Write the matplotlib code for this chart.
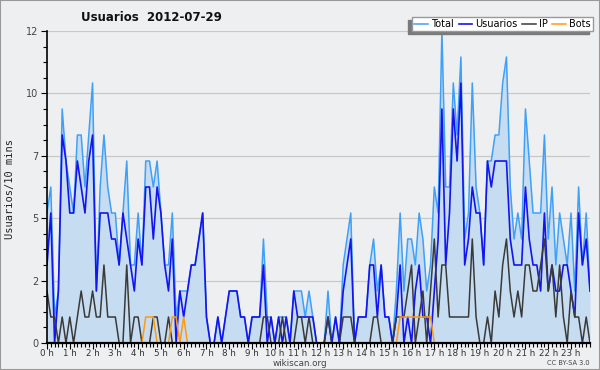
import numpy as np
import matplotlib
matplotlib.use("Agg")
import matplotlib.pyplot as plt
from matplotlib.patches import Rectangle
from matplotlib.ticker import FixedLocator, MultipleLocator

# values per 10 minutes, 144 slots from 0 h to 23 h 50
total = [5, 6, 1, 2, 9, 7, 6, 5, 8, 8, 6, 8, 10, 2, 6, 8, 6, 5, 5, 3,
         5, 7, 3, 3, 5, 3, 7, 7, 6, 7, 5, 3, 3, 5, 1, 2, 2, 2, 3, 3,
         4, 5, 1, 0, 0, 1, 0, 1, 2, 2, 2, 1, 1, 0, 1, 1, 1, 4, 1, 1,
         0, 1, 1, 1, 0, 2, 2, 2, 1, 2, 1, 0, 0, 0, 2, 0, 1, 0, 3, 4,
         5, 0, 1, 1, 1, 3, 4, 2, 3, 1, 1, 0, 2, 5, 2, 4, 4, 3, 5, 4,
         2, 3, 6, 5, 12, 6, 6, 10, 8, 11, 4, 5, 10, 6, 5, 3, 7, 7, 8, 8,
         10, 11, 6, 4, 5, 4, 9, 7, 5, 5, 5, 8, 4, 6, 3, 5, 4, 3, 5, 2,
         6, 3, 5, 2]
usuarios = [3, 5, 0, 2, 8, 7, 5, 5, 7, 6, 5, 7, 8, 2, 5, 5, 5, 4, 4, 3,
            5, 4, 3, 2, 4, 3, 6, 6, 4, 6, 5, 3, 2, 4, 0, 2, 1, 2, 3, 3,
            4, 5, 1, 0, 0, 1, 0, 1, 2, 2, 2, 1, 1, 0, 1, 1, 1, 3, 0, 1,
            0, 1, 0, 1, 0, 2, 1, 1, 1, 1, 1, 0, 0, 0, 1, 0, 1, 0, 2, 3,
            4, 0, 1, 1, 1, 3, 3, 1, 3, 1, 1, 0, 1, 3, 0, 1, 0, 2, 3, 1,
            1, 0, 2, 4, 9, 3, 5, 9, 7, 10, 3, 4, 6, 5, 5, 3, 7, 6, 7, 7,
            7, 7, 4, 3, 3, 3, 6, 4, 3, 3, 2, 5, 2, 3, 2, 2, 3, 3, 2, 1,
            5, 3, 4, 2]
ip = [2, 1, 1, 0, 1, 0, 1, 0, 1, 2, 1, 1, 2, 1, 1, 3, 1, 1, 1, 0,
      0, 3, 0, 1, 1, 0, 0, 0, 1, 1, 0, 0, 1, 0, 0, 0, 0, 0, 0, 0,
      0, 0, 0, 0, 0, 0, 0, 0, 0, 0, 0, 0, 0, 0, 0, 0, 0, 1, 1, 0,
      0, 0, 1, 0, 0, 0, 1, 1, 0, 1, 0, 0, 0, 0, 1, 0, 0, 0, 1, 1,
      1, 0, 0, 0, 0, 0, 1, 1, 0, 0, 0, 0, 1, 1, 1, 2, 3, 0, 1, 2,
      0, 2, 4, 1, 3, 3, 1, 1, 1, 1, 1, 1, 4, 1, 0, 0, 1, 0, 2, 1,
      3, 4, 2, 1, 2, 1, 3, 3, 2, 2, 3, 4, 2, 3, 1, 3, 1, 0, 2, 1,
      1, 0, 1, 0]
bots = [0, 0, 0, 0, 0, 0, 0, 0, 0, 0, 0, 0, 0, 0, 0, 0, 0, 0, 0, 0,
        0, 0, 0, 0, 0, 0, 1, 1, 1, 0, 0, 0, 0, 1, 1, 0, 1, 0, 0, 0,
        0, 0, 0, 0, 0, 0, 0, 0, 0, 0, 0, 0, 0, 0, 0, 0, 0, 0, 0, 0,
        0, 0, 0, 0, 0, 0, 0, 0, 0, 0, 0, 0, 0, 0, 0, 0, 0, 0, 0, 0,
        0, 0, 0, 0, 0, 0, 0, 0, 0, 0, 0, 0, 0, 1, 1, 1, 1, 1, 1, 1,
        1, 1, 0, 0, 0, 0, 0, 0, 0, 0, 0, 0, 0, 0, 0, 0, 0, 0, 0, 0,
        0, 0, 0, 0, 0, 0, 0, 0, 0, 0, 0, 0, 0, 0, 0, 0, 0, 0, 0, 0,
        0, 0, 0, 0]
hour_labels = ["%d h" % h for h in range(24)]
y_ticks = [0, 2.4, 4.8, 7.2, 9.6, 12]
y_labels = ["0", "2", "5", "7", "10", "12"]

bg = "#eeeff1"
x = np.arange(len(total))

fig = plt.figure(figsize=(6, 3.7), dpi=100, facecolor=bg)
ax = fig.add_axes([47 / 600, 27 / 370, 543 / 600, 312 / 370], facecolor=bg)

ax.fill_between(x, total, color="#c6dcf0", lw=0)
l1, = ax.plot(x, total, color="#3fa0f7", lw=1.1, label="Total")
l2, = ax.plot(x, usuarios, color="#1414f0", lw=1.2, label="Usuarios")
l3, = ax.plot(x, ip, color="#3a3a3a", lw=1.1, label="IP")
l4, = ax.plot(x, bots, color="#ff9a10", lw=1.1, label="Bots")

ax.set_xlim(0, len(total) - 1)
ax.set_ylim(0, 12)
ax.set_yticks(y_ticks)
ax.set_yticklabels(y_labels)
ax.yaxis.set_minor_locator(MultipleLocator(0.6))
ax.set_xticks(np.arange(0, 144, 6))
ax.set_xticklabels(hour_labels)
ax.xaxis.set_minor_locator(FixedLocator(x))
ax.tick_params(axis="y", which="major", length=4, width=0.8, labelsize=7,
               labelcolor="#444444", pad=2)
ax.tick_params(axis="x", which="major", length=4, width=0.8, labelsize=6.3,
               labelcolor="#333333", pad=0.5)
ax.tick_params(axis="both", which="minor", length=3, width=0.8)
ax.grid(axis="y", color="#c8c8c8", lw=0.9)
ax.set_axisbelow(True)
for s in ["top", "right"]:
    ax.spines[s].set_visible(False)
ax.spines["left"].set_linewidth(1.2)
ax.spines["bottom"].set_linewidth(1.6)

fig.text(0.253, 0.953, "Usuarios  2012-07-29", fontsize=8.5, fontweight="bold",
         ha="center", va="center", color="#111111")
fig.text(0.017, 0.49, "Usuarios/10 mins", rotation=90, fontsize=7.5,
         family="DejaVu Sans Mono", ha="center", va="center", color="#222222")
fig.text(0.5, 0.018, "wikiscan.org", fontsize=6.3, ha="center", va="center", color="#444444")
fig.text(0.983, 0.018, "CC BY-SA 3.0", fontsize=4.8, ha="right", va="center", color="#444444")

leg = fig.legend(handles=[l1, l2, l3, l4], loc="upper right", ncol=4,
                 bbox_to_anchor=(593 / 600, 1 - 17 / 370), fontsize=7,
                 frameon=True, fancybox=False, handlelength=1.4, handletextpad=0.35,
                 columnspacing=0.45, borderpad=0.2, borderaxespad=0)
leg.get_frame().set_edgecolor("#999999")
leg.get_frame().set_facecolor("white")
leg.get_frame().set_alpha(1)
leg.set_zorder(5)

# grey shadow offset to the lower left of the legend box
fig.canvas.draw()
bb = leg.get_window_extent()
fig.patches.append(Rectangle((bb.x0 - 4, bb.y0 - 3), bb.width, bb.height,
                             transform=None, color="#7a7a7a", zorder=4))

fig.patches.append(Rectangle((0, 0), 1, 1, transform=fig.transFigure, fill=False,
                             edgecolor="#999999", lw=1.5, zorder=10))

fig.savefig("out.png", dpi=100, facecolor=bg)
